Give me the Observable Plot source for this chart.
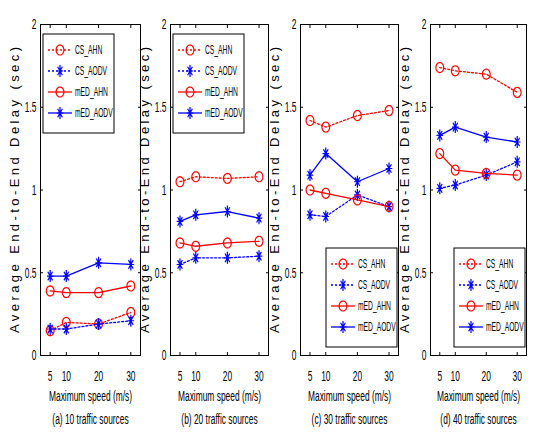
<!DOCTYPE html>
<html><head><meta charset="utf-8">
<script src="https://cdn.jsdelivr.net/npm/d3@7"></script>
<script src="https://cdn.jsdelivr.net/npm/@observablehq/plot@0.6"></script>
<style>
body{margin:0;background:#fff;}
#root{position:relative;width:555px;height:440px;overflow:hidden;background:#fff;}
#root svg{position:absolute;top:0;}
</style></head><body><div id="root"></div>
<script>
// ---- data ----
const speeds = [5, 10, 20, 30];
const xTickLabels = ["5", "10", "20", "30"];
const yTicks = [0, 0.5, 1, 1.5, 2];
const yTickLabels = ["0", "0.5", "1", "1.5", "2"];
const panelCaptions = ["(a) 10 traffic sources", "(b) 20 traffic sources", "(c) 30 traffic sources", "(d) 40 traffic sources"];
const xLabel = "Maximum speed (m/s)";
const yLabel = "Average End-to-End Delay (sec)";
const seriesNames = ["CS_AHN", "CS_AODV", "mED_AHN", "mED_AODV"];
// values per panel (a..d), per speed
const csAHN   = [[0.15, 0.20, 0.19, 0.26], [1.05, 1.08, 1.07, 1.08], [1.42, 1.38, 1.45, 1.48], [1.74, 1.72, 1.70, 1.59]];
const csAODV  = [[0.16, 0.16, 0.19, 0.21], [0.55, 0.59, 0.59, 0.60], [0.85, 0.84, 0.97, 0.90], [1.01, 1.03, 1.09, 1.17]];
const medAHN  = [[0.39, 0.38, 0.38, 0.42], [0.68, 0.66, 0.68, 0.69], [1.00, 0.98, 0.94, 0.90], [1.22, 1.12, 1.10, 1.09]];
const medAODV = [[0.48, 0.48, 0.56, 0.55], [0.81, 0.85, 0.87, 0.83], [1.09, 1.22, 1.05, 1.13], [1.33, 1.38, 1.32, 1.29]];
const legendCorner = ["top-left", "top-left", "bottom-right", "bottom-right"];

// ---- marker shapes (horizontally squeezed, like the reference) ----
const ellipseSymbol = {
  draw(ctx, size) {
    const r = Math.sqrt(size / Math.PI), rx = r * 0.78, n = 28;
    for (let i = 0; i <= n; i++) {
      const a = (i / n) * 2 * Math.PI;
      const px = rx * Math.cos(a), py = r * Math.sin(a);
      if (i === 0) ctx.moveTo(px, py); else ctx.lineTo(px, py);
    }
    ctx.closePath();
  }
};
const starSymbol = {
  draw(ctx, size) {
    const r = Math.sqrt(size / Math.PI), sx = 0.55, d = r * 0.72;
    ctx.moveTo(0, -r); ctx.lineTo(0, r);
    ctx.moveTo(-r * sx, 0); ctx.lineTo(r * sx, 0);
    ctx.moveTo(-d * sx, -d); ctx.lineTo(d * sx, d);
    ctx.moveTo(-d * sx, d); ctx.lineTo(d * sx, -d);
  }
};

// ---- styles / layout ----
const seriesValues = [csAHN, csAODV, medAHN, medAODV];
const styles = {
  CS_AHN:   {color: "#ff0000", dash: "2,2", symbol: ellipseSymbol, r: 5},
  CS_AODV:  {color: "#0000ff", dash: "2,2", symbol: starSymbol, r: 6},
  mED_AHN:  {color: "#ff0000", dash: null,  symbol: ellipseSymbol, r: 5},
  mED_AODV: {color: "#0000ff", dash: null,  symbol: starSymbol, r: 6}
};
const frameLefts = [40, 170, 300, 430];
const frameWidths = [100, 98, 98, 96];
const ML = 40, MT = 24, MB = 85, H = 440;
const FONT = "'Liberation Sans', Arial, sans-serif";
const root = document.getElementById("root");

panelCaptions.forEach((caption, p) => {
  const w = frameWidths[p];
  const rows = seriesNames.flatMap((s, k) => speeds.map((x, j) => ({series: s, speed: x, delay: seriesValues[k][p][j]})));
  const seriesMarks = seriesNames.flatMap((s) => {
    const st = styles[s];
    const d = rows.filter((r) => r.series === s);
    return [
      Plot.line(d, {x: "speed", y: "delay", stroke: st.color, strokeWidth: 1.3, strokeDasharray: st.dash}),
      Plot.dot(d, {x: "speed", y: "delay", symbol: st.symbol, r: st.r, stroke: st.color, fill: "none", strokeWidth: 1.2})
    ];
  });
  const chart = Plot.plot({
    width: ML + w + 4, height: H,
    marginLeft: ML, marginRight: 4, marginTop: MT, marginBottom: MB,
    style: {background: "transparent", fontFamily: FONT, overflow: "visible", color: "black"},
    x: {domain: [2, 33], axis: null},
    y: {domain: [0, 2], axis: null},
    marks: [
      Plot.frame({stroke: "black", strokeWidth: 1}),
      Plot.axisX({anchor: "bottom", ticks: speeds, tickSize: -3, tickPadding: 18, tickFormat: (d) => xTickLabels[speeds.indexOf(d)], fontSize: 15, label: null}),
      Plot.axisX({anchor: "top", ticks: speeds, tickSize: -3, tickFormat: () => "", label: null}),
      Plot.axisY({anchor: "left", ticks: yTicks, tickSize: -3, tickPadding: 7, tickFormat: (d) => yTickLabels[yTicks.indexOf(d)], fontSize: 15, label: null}),
      Plot.axisY({anchor: "right", ticks: yTicks, tickSize: -3, tickFormat: () => "", label: null}),
      ...seriesMarks,
      Plot.text([xLabel], {frameAnchor: "bottom", dy: 45, fontSize: 15}),
      Plot.text([caption], {frameAnchor: "bottom", dy: 68, fontSize: 15}),
      Plot.text([yLabel], {frameAnchor: "left", dx: -26, rotate: -90, fontSize: 13})
    ]
  });
  chart.style.left = (frameLefts[p] - ML) + "px";
  const svg = d3.select(chart);
  // squeeze text horizontally, like the reference; stretch the rotated y label
  svg.selectAll("text").each(function () {
    const t = d3.select(this);
    const tr = t.attr("transform") || "";
    if (tr.includes("rotate")) {
      t.attr("text-anchor", "start").attr("x", -143)
        .attr("textLength", 286).attr("lengthAdjust", "spacing");
      return;
    }
    t.attr("transform", tr + " scale(0.56,1)");
  });
  // legend box
  const x0 = ML, x1 = ML + w, y0 = MT, y1 = H - MB;
  const bw = 71, bh = 99;
  const bx = legendCorner[p] === "top-left" ? x0 + 3 : x1 - 1 - bw;
  const by = legendCorner[p] === "top-left" ? y0 + 10 : y1 - 8 - bh;
  const lg = svg.append("g").attr("aria-label", "legend");
  lg.append("rect").attr("x", bx).attr("y", by).attr("width", bw).attr("height", bh)
    .attr("fill", "white").attr("stroke", "black").attr("stroke-width", 1);
  seriesNames.forEach((s, k) => {
    const st = styles[s];
    const yy = by + 16 + 21 * k;
    lg.append("line").attr("x1", bx + 5).attr("x2", bx + 29).attr("y1", yy).attr("y2", yy)
      .attr("stroke", st.color).attr("stroke-width", 1.3).attr("stroke-dasharray", st.dash);
    lg.append("path").attr("d", d3.symbol(st.symbol, Math.PI * st.r * st.r)())
      .attr("transform", `translate(${bx + 17},${yy})`)
      .attr("fill", "none").attr("stroke", st.color).attr("stroke-width", 1.2);
    lg.append("text").attr("transform", `translate(${bx + 32},${yy}) scale(0.56,1)`)
      .attr("text-anchor", "start").attr("dy", "0.35em").attr("font-size", 12)
      .attr("font-family", FONT).attr("fill", "black").text(s);
  });
  root.appendChild(chart);
});
</script>
</body></html>
